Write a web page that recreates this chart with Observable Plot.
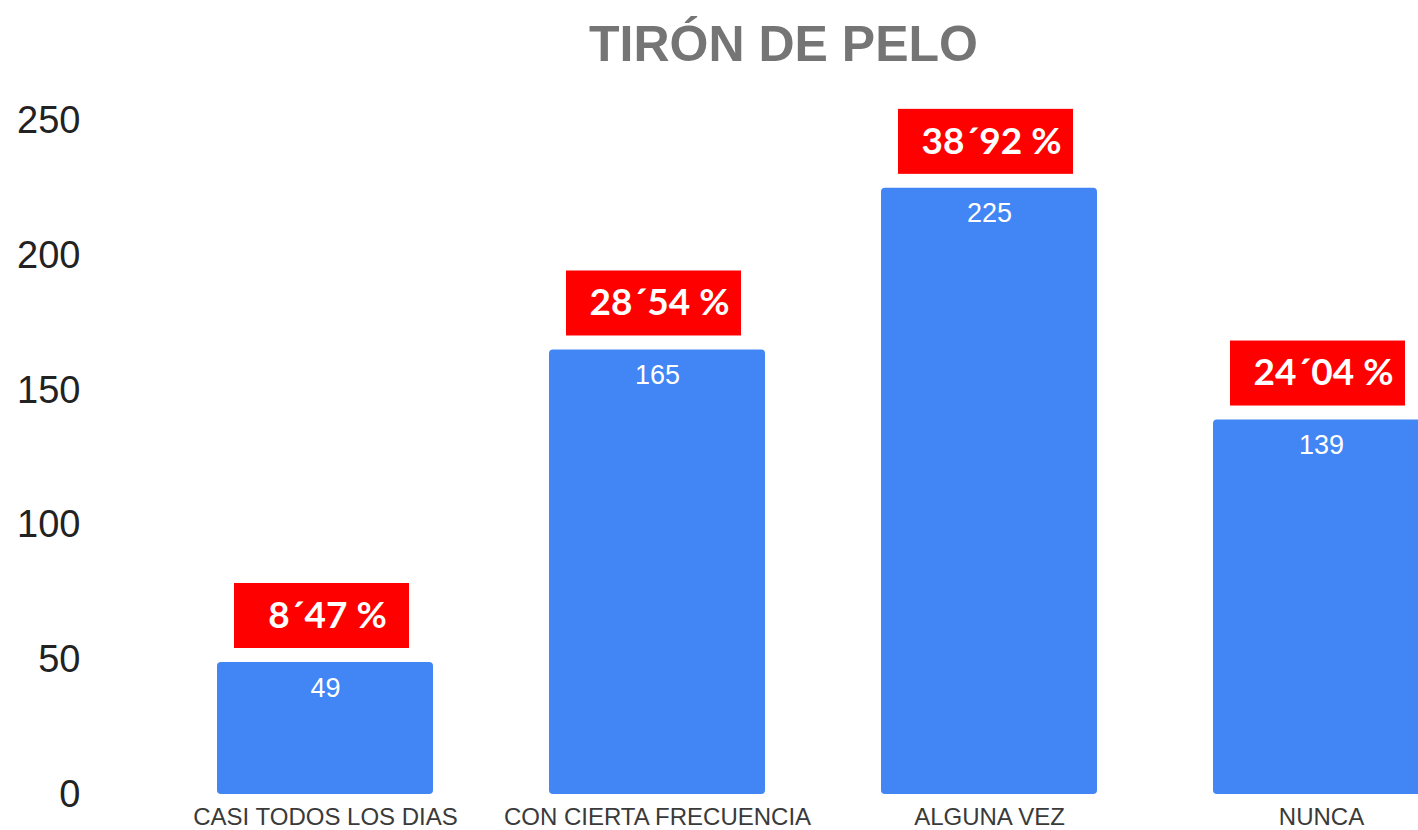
<!DOCTYPE html>
<html><head><meta charset="utf-8">
<script src="https://cdn.jsdelivr.net/npm/d3@7"></script>
<script src="https://cdn.jsdelivr.net/npm/@observablehq/plot@0.6"></script>
<style>
html,body{margin:0;padding:0;background:#fff;overflow:hidden;width:1418px;height:830px;position:relative;}
#title{position:absolute;left:0;top:19px;width:1567px;text-align:center;font-family:"Liberation Sans",Arial,sans-serif;font-weight:bold;font-size:50px;color:#757575;line-height:50px;white-space:nowrap;}
#chart{position:absolute;left:0;top:90px;}
#chart svg{overflow:hidden;}
</style></head><body>
<div id="title">TIRÓN DE PELO</div>
<div id="chart"></div>
<script>
const categories = ["CASI TODOS LOS DIAS", "CON CIERTA FRECUENCIA", "ALGUNA VEZ", "NUNCA"];
const counts = [49, 165, 225, 139];
const percentLabels = ["8´47 %", "28´54 %", "38´92 %", "24´04 %"];
const yTicks = [0, 50, 100, 150, 200, 250];

const data = categories.map((c, i) => ({cat: c, value: counts[i], pct: percentLabels[i]}));

const W = 1418, H = 740;
const yRange = [704, 30.5];
const yMax = 250;
const pxPerUnit = (yRange[0] - yRange[1]) / yMax;
const boxH = 65, gap = 14;

const plot = Plot.plot({
  width: W,
  height: H,
  marginLeft: 90,
  marginRight: 0,
  marginTop: 30.5,
  marginBottom: 36,
  style: {fontFamily: "'Liberation Sans', Arial, sans-serif", background: "#fff", overflow: "hidden"},
  x: {domain: categories, range: [216, 1431], paddingInner: 0.348, paddingOuter: 0, align: 0.5, label: null},
  y: {domain: [0, yMax], range: yRange, label: null},
  marks: [
    Plot.axisY({ticks: yTicks, tickSize: 0, tickPadding: 10, fontSize: 38, fill: "#222", label: null}),
    Plot.axisX({tickSize: 0, tickPadding: 13, fontSize: 24, fill: "#3a3a3a", label: null}),
    Plot.barY(data, {x: "cat", y: "value", fill: "#4285f4", rx: 4}),
    Plot.text(data, {x: "cat", y: "value", text: d => String(d.value), fill: "#fff", fontSize: 27, dy: 25.5}),
    Plot.barY(data, {
      x: "cat",
      y1: "value",
      y2: d => d.value + boxH / pxPerUnit,
      dy: -gap,
      insetLeft: 17,
      insetRight: 24,
      fill: "#ff0000"
    }),
    Plot.text(data, {
      x: "cat", y: "value", text: "pct",
      fill: "#fff", fontSize: 37, fontWeight: 700, fontFamily: "Lato, 'Open Sans', sans-serif",
      dy: -(gap + boxH / 2), dx: 2
    })
  ]
});
document.getElementById("chart").appendChild(plot);
</script>
</body></html>
